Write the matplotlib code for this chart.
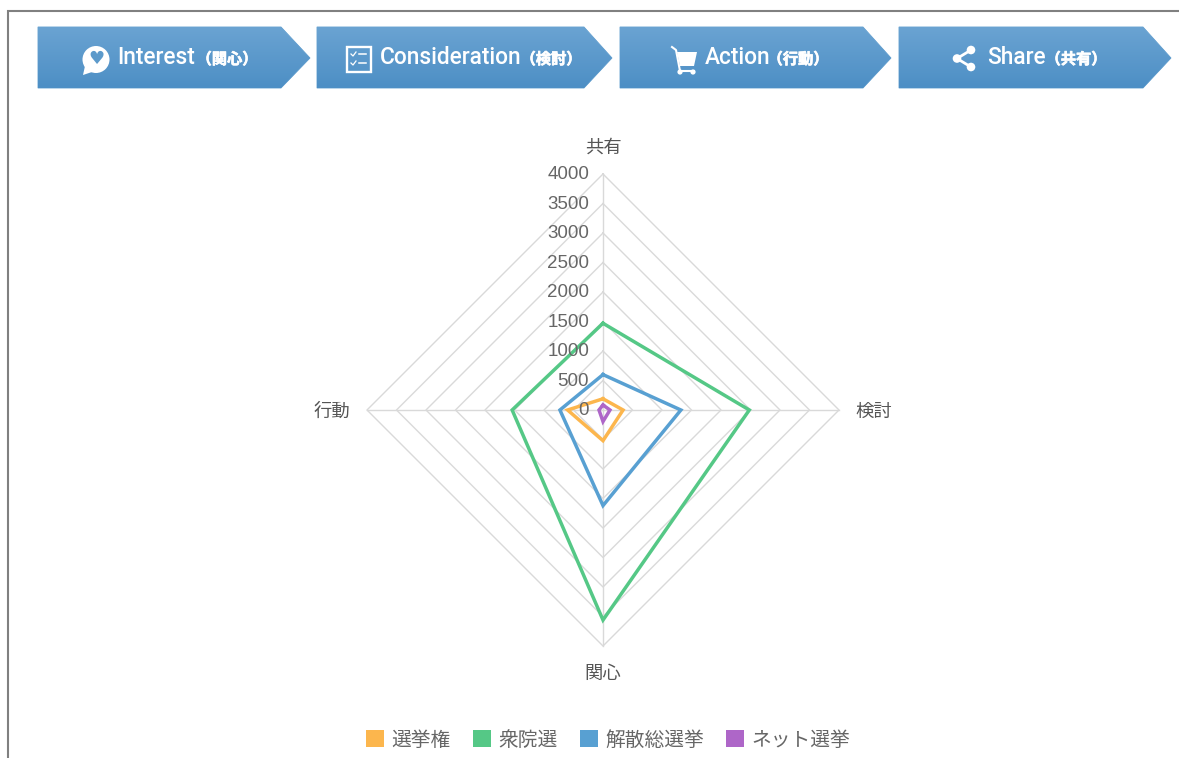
import numpy as np
import matplotlib
matplotlib.use('Agg')
import matplotlib.pyplot as plt
import matplotlib.patheffects as pe
from matplotlib.patches import Polygon, Circle, Rectangle, Patch

plt.rcParams['font.family'] = ['Noto Sans CJK JP', 'DejaVu Sans']

# axes run clockwise from the top
categories = ['共有', '検討', '関心', '行動']
ticks = [0, 500, 1000, 1500, 2000, 2500, 3000, 3500, 4000]
senkyoken = [190, 340, 520, 600]
shuinsen = [1470, 2480, 3560, 1540]
kaisan = [600, 1320, 1620, 730]
net = [85, 118, 195, 68]
series_names = ['選挙権', '衆院選', '解散総選挙', 'ネット選挙']
series_values = [senkyoken, shuinsen, kaisan, net]
series_colors = ['#fcb64d', '#55c886', '#58a0d2', '#ae66c8']

banner_main = ['Interest', 'Consideration', 'Action', 'Share']
banner_sub = ['（関心）', '（検討）', '（行動）', '（共有）']

W, H = 1179, 758
fig = plt.figure(figsize=(W / 100, H / 100), dpi=100)

# page overlay in pixel coordinates for border and banners
page = fig.add_axes([0, 0, 1, 1])
page.set_xlim(0, W)
page.set_ylim(H, 0)
page.axis('off')
page.plot([8, 8, W], [H, 11, 11], color='#808080', lw=1.5, solid_joinstyle='miter')

banners = [(38, 281, 310), (317, 584, 612), (620, 863, 891), (899, 1143, 1171)]
grad = np.linspace(0, 1, 64).reshape(-1, 1, 1) * (np.array([0x4d, 0x8f, 0xc5]) - np.array([0x6a, 0xa3, 0xd2])) + np.array([0x6a, 0xa3, 0xd2])
grad = grad / 255
for left, shoulder, tip in banners:
    poly = Polygon([(left, 27), (shoulder, 27), (tip, 58), (shoulder, 88), (left, 88)],
                   closed=True, fc='none', ec='#5b9bcd', lw=0.6)
    page.add_patch(poly)
    im = page.imshow(grad, extent=(left, tip, 88, 27), aspect='auto', zorder=1)
    im.set_clip_path(poly)
page.set_xlim(0, W)
page.set_ylim(H, 0)

text_x = [117, 380, 705, 987]
sub_x = [227, 551, 798, 1076]
for i in range(4):
    page.text(text_x[i], 58, banner_main[i], color='white', fontsize=16.3, fontweight='medium',
              ha='left', va='center', zorder=3, family='Roboto')
    sub = page.text(sub_x[i], 59, banner_sub[i], color='white', fontsize=11, fontweight='bold',
                    ha='center', va='center', zorder=3)
    # CJK family renders light here, thicken it a bit
    sub.set_path_effects([pe.withStroke(linewidth=0.5, foreground='white')])

# heart bubble
page.add_patch(Circle((96, 59.5), 13.5, fc='white', ec='none', zorder=3))
page.add_patch(Polygon([(85, 66), (92, 72), (83, 75)], fc='white', ec='none', zorder=3))
page.text(96, 59.5, '♥', color='#5c9acb', fontsize=13, ha='center', va='center', zorder=4, family='DejaVu Sans')

# checklist
page.add_patch(Rectangle((346.5, 46.5), 24, 25, fc='none', ec='white', lw=1.7, zorder=3))
for y in (54, 63):
    page.plot([351, 353, 356], [y, y + 2, y - 2], color='white', lw=0.9, zorder=3)
    page.plot([359, 366], [y, y], color='white', lw=1.1, zorder=3)

# cart
page.add_patch(Polygon([(677, 52), (697, 52), (694, 66), (680, 66)], fc='white', ec='none', zorder=3))
page.plot([672, 676, 680, 694], [47, 50, 71, 71], color='white', lw=1.5, zorder=3)
page.add_patch(Circle((680, 72), 2.6, fc='white', ec='none', zorder=3))
page.add_patch(Circle((693, 72), 2.6, fc='white', ec='none', zorder=3))

# share
share_pts = [(971, 50), (957, 58.5), (971, 67)]
page.plot(*zip(*share_pts), color='white', lw=2, zorder=3)
for pt in share_pts:
    page.add_patch(Circle(pt, 4.3, fc='white', ec='none', zorder=3))

# radar chart, centre (603, 410), radius 236 px
R = 236
ax = fig.add_axes([(603 - R) / W, (H - 410 - R) / H, 2 * R / W, 2 * R / H], projection='polar')
ax.patch.set_alpha(0)
ax.set_theta_zero_location('N')
ax.set_theta_direction(-1)
ax.set_rlim(0, 4000)
ax.axis('off')

theta = np.arange(len(categories)) * np.pi / 2
theta_closed = np.append(theta, theta[0])

for t in ticks[1:]:
    ax.plot(theta_closed, [t] * 5, color='#d9d9d9', lw=1, clip_on=False, zorder=1)
for th in theta:
    ax.plot([th, th], [0, ticks[-1]], color='#d9d9d9', lw=1, clip_on=False, zorder=1)

for vals, color in zip(series_values, series_colors):
    ax.plot(theta_closed, vals + vals[:1], color=color, lw=2.5, clip_on=False, zorder=2,
            solid_joinstyle='miter')

for t in ticks:
    ax.annotate(str(t), (0, t), xytext=(-10, -0.7), textcoords='offset points', ha='right', va='center',
                fontsize=13.5, color='#666666', zorder=3, annotation_clip=False, family='Liberation Sans')

label_offsets = [(0, 19), (11.5, -1.5), (0, -20.5), (-12, -1.5)]
label_ha = ['center', 'left', 'center', 'right']
for th, name, off, ha in zip(theta, categories, label_offsets, label_ha):
    ax.annotate(name, (th, ticks[-1]), xytext=off, textcoords='offset points', ha=ha, va='center',
                fontsize=13.2, color='#555555', annotation_clip=False)

handles = [Patch(fc=c, ec='none', label=n) for c, n in zip(series_colors, series_names)]
fig.legend(handles=handles, loc='center', bbox_to_anchor=(608 / W, (H - 740) / H), ncol=4, frameon=False,
           fontsize=14.2, labelcolor='#666666', handlelength=0.93, handleheight=0.93,
           handletextpad=0.36, columnspacing=1.13, borderpad=0)

fig.savefig('out.png', dpi=100)
